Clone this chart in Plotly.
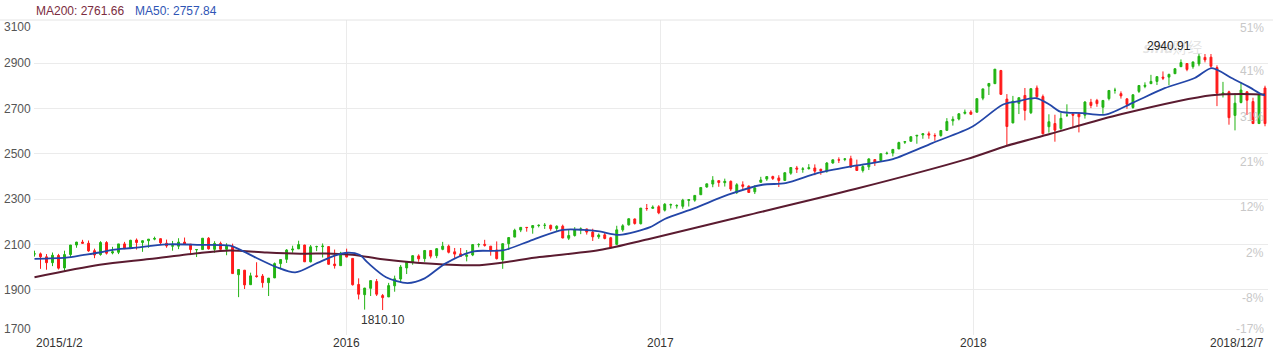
import pandas as pd
import plotly.graph_objects as go

# ---------------- data (weekly OHLC, S&P 500) ----------------
week_end = [d.strftime("%Y-%m-%d") for d in pd.date_range("2015-01-02", "2018-12-07", freq="W-FRI")]

open_vals = [
    2058, 2058, 2045, 2019, 2051, 1996, 2055, 2097, 2110, 2105, 2072, 2055, 2108, 2062, 2065, 2102, 2082, 2119,
    2108, 2116, 2123, 2125, 2105, 2092, 2092, 2110, 2101, 2076, 2077, 2127, 2078, 2104, 2078, 2092, 1966, 1986,
    1922, 1961, 1960, 1931, 1952, 2015, 2034, 2075, 2080, 2097, 2023, 2090, 2090, 2090, 2013, 2006, 2061,
    2038, 1923, 1878, 1906, 1936, 1874, 1868, 1917, 1947, 1996, 2022, 2049, 2037, 2073, 2050, 2078, 2092, 2067,
    2058, 2047, 2053, 2099, 2100, 2092, 2075, 2031, 2103, 2132, 2163, 2175, 2173, 2183, 2184, 2184, 2170, 2180,
    2127, 2139, 2164, 2168, 2154, 2133, 2142, 2129, 2100, 2164, 2186, 2212, 2191, 2258, 2259, 2266,
    2251, 2274, 2270, 2268, 2294, 2295, 2319, 2353, 2366, 2381, 2372, 2378, 2329, 2363, 2357, 2332, 2374, 2388,
    2399, 2393, 2382, 2414, 2437, 2431, 2434, 2437, 2431, 2424, 2459, 2473, 2475, 2478, 2445, 2426, 2442, 2474,
    2470, 2501, 2503, 2521, 2551, 2555, 2578, 2583, 2588, 2580, 2580, 2603, 2645, 2653, 2678, 2684,
    2683, 2745, 2798, 2809, 2867, 2741, 2636, 2722, 2757, 2681, 2790, 2752, 2619, 2633, 2611, 2670, 2675, 2675,
    2670, 2727, 2735, 2705, 2743, 2780, 2765, 2742, 2704, 2775, 2797, 2809, 2819, 2838, 2838, 2853, 2884, 2898,
    2884, 2896, 2925, 2926, 2880, 2763, 2773, 2669, 2726, 2773, 2730, 2633, 2790,
]
high_vals = [
    2072, 2064, 2057, 2064, 2058, 2072, 2097, 2111, 2120, 2117, 2081, 2114, 2114, 2089, 2102, 2111, 2120, 2126,
    2117, 2123, 2134, 2126, 2121, 2115, 2127, 2130, 2101, 2078, 2127, 2132, 2114, 2112, 2105, 2103, 1989, 1987,
    1975, 2021, 1969, 1951, 2020, 2034, 2079, 2094, 2116, 2098, 2097, 2094, 2104, 2090, 2077, 2067, 2081,
    2038, 1950, 1908, 1940, 1947, 1881, 1930, 1962, 2009, 2022, 2052, 2056, 2075, 2073, 2083, 2111, 2099, 2084,
    2084, 2075, 2099, 2105, 2120, 2092, 2113, 2104, 2131, 2169, 2176, 2176, 2183, 2188, 2194, 2187, 2184, 2187,
    2163, 2176, 2175, 2169, 2169, 2148, 2154, 2133, 2182, 2189, 2214, 2214, 2259, 2278, 2272, 2273,
    2282, 2280, 2277, 2301, 2300, 2317, 2351, 2368, 2401, 2382, 2390, 2382, 2370, 2378, 2360, 2361, 2398, 2400,
    2403, 2405, 2418, 2440, 2446, 2441, 2454, 2453, 2434, 2463, 2474, 2484, 2480, 2491, 2474, 2454, 2480, 2474,
    2500, 2509, 2520, 2553, 2556, 2576, 2582, 2588, 2598, 2590, 2604, 2657, 2665, 2679, 2695, 2692,
    2743, 2787, 2808, 2873, 2870, 2763, 2755, 2748, 2790, 2787, 2801, 2761, 2674, 2672, 2681, 2718, 2683, 2682,
    2732, 2742, 2742, 2736, 2780, 2791, 2775, 2744, 2762, 2802, 2815, 2848, 2841, 2863, 2853, 2876, 2916, 2900,
    2906, 2940.91, 2940, 2940, 2890, 2817, 2778, 2767, 2815, 2775, 2747, 2765, 2800,
]
low_vals = [
    2046, 1992, 1988, 2004, 1989, 1981, 2041, 2085, 2103, 2067, 2039, 2050, 2055, 2056, 2057, 2079, 2079, 2077,
    2067, 2085, 2118, 2099, 2085, 2072, 2079, 2101, 2056, 2044, 2077, 2077, 2063, 2067, 2052, 1971, 1867, 1903,
    1921, 1953, 1909, 1872, 1951, 1990, 2018, 2063, 2080, 2022, 2020, 2070, 2042, 2010, 1993, 2005, 2043,
    1918, 1857, 1812, 1872, 1872, 1810.10, 1868, 1891, 1931, 1969, 2010, 2023, 2023, 2038, 2039, 2074, 2060, 2040,
    2047, 2025, 2048, 2087, 2090, 2050, 2033, 1992, 2075, 2132, 2154, 2156, 2147, 2175, 2168, 2160, 2157, 2127,
    2119, 2134, 2145, 2143, 2115, 2124, 2122, 2084, 2097, 2156, 2183, 2187, 2188, 2248, 2258, 2233,
    2245, 2258, 2258, 2257, 2267, 2288, 2319, 2350, 2352, 2354, 2355, 2335, 2322, 2344, 2328, 2322, 2372, 2380,
    2384, 2353, 2382, 2407, 2415, 2416, 2430, 2405, 2407, 2416, 2456, 2459, 2467, 2437, 2424, 2417, 2428, 2446,
    2469, 2496, 2488, 2521, 2543, 2553, 2544, 2566, 2566, 2557, 2575, 2600, 2624, 2647, 2673, 2673,
    2683, 2736, 2759, 2808, 2759, 2532, 2634, 2675, 2647, 2675, 2741, 2585, 2593, 2553, 2605, 2662, 2613, 2594,
    2655, 2701, 2707, 2676, 2735, 2765, 2743, 2698, 2698, 2768, 2789, 2808, 2803, 2825, 2802, 2852, 2883, 2864,
    2875, 2886, 2903, 2874, 2710, 2748, 2628, 2603, 2722, 2671, 2631, 2631, 2621,
]
close_vals = [
    2058, 2045, 2019, 2052, 1995, 2055, 2097, 2110, 2105, 2071, 2053, 2108, 2061, 2067, 2102, 2081, 2118, 2108,
    2116, 2123, 2126, 2107, 2093, 2094, 2110, 2101, 2077, 2077, 2127, 2080, 2104, 2078, 2092, 1971, 1989, 1921,
    1961, 1958, 1931, 1951, 2015, 2033, 2075, 2079, 2099, 2023, 2089, 2090, 2092, 2012, 2006, 2061, 2044,
    1922, 1880, 1907, 1940, 1880, 1865, 1918, 1948, 2000, 2022, 2050, 2036, 2073, 2048, 2081, 2092, 2065, 2057,
    2047, 2052, 2099, 2099, 2096, 2071, 2037, 2103, 2130, 2162, 2175, 2174, 2183, 2184, 2184, 2169, 2180, 2128,
    2139, 2165, 2168, 2154, 2133, 2141, 2126, 2085, 2164, 2182, 2213, 2192, 2260, 2258, 2264, 2239,
    2277, 2275, 2271, 2295, 2297, 2316, 2351, 2367, 2383, 2373, 2378, 2344, 2363, 2356, 2329, 2349, 2384, 2399,
    2391, 2382, 2416, 2439, 2432, 2433, 2438, 2423, 2425, 2459, 2473, 2472, 2477, 2441, 2426, 2443, 2477, 2461,
    2500, 2502, 2519, 2549, 2553, 2575, 2581, 2588, 2582, 2579, 2602, 2642, 2652, 2676, 2683, 2674,
    2743, 2786, 2810, 2873, 2762, 2620, 2732, 2747, 2691, 2787, 2752, 2588, 2641, 2604, 2656, 2670, 2670, 2663,
    2728, 2713, 2721, 2735, 2779, 2780, 2755, 2718, 2760, 2801, 2802, 2819, 2840, 2833, 2850, 2875, 2902, 2872,
    2905, 2930, 2914, 2886, 2767, 2768, 2659, 2723, 2781, 2736, 2633, 2760, 2633,
]

# moving averages
ma200_dates = ["2015-01-02", "2015-03-19", "2015-05-16", "2015-07-14", "2015-08-18", "2015-09-30", "2015-11-08",
               "2015-12-16", "2016-01-08", "2016-02-12", "2016-03-26", "2016-06-04", "2016-08-13", "2016-10-22",
               "2016-12-20", "2017-03-25", "2017-08-16", "2017-12-24", "2018-02-09", "2018-03-31", "2018-06-23",
               "2018-10-06", "2018-12-07"]
ma200_vals = [1955, 2010, 2035, 2062, 2073, 2064, 2059, 2059, 2054, 2034, 2018, 2008, 2044, 2075, 2125, 2212,
              2344, 2476, 2535, 2587, 2675, 2758, 2761.66]

ma50_dates = ["2015-01-02", "2015-02-08", "2015-02-27", "2015-03-19", "2015-04-03", "2015-04-26", "2015-06-05",
              "2015-07-14", "2015-08-18", "2015-08-29", "2015-09-18", "2015-10-11", "2015-11-02", "2015-11-28",
              "2015-12-18", "2016-01-02", "2016-01-16", "2016-01-26", "2016-02-16", "2016-03-12", "2016-04-01",
              "2016-04-25", "2016-05-28", "2016-07-01", "2016-08-05", "2016-09-09", "2016-10-03", "2016-10-22",
              "2016-11-14", "2016-12-20", "2017-01-06", "2017-02-10", "2017-03-21", "2017-04-30", "2017-05-27",
              "2017-07-04", "2017-08-16", "2017-09-29", "2017-11-14", "2017-12-31", "2018-02-04", "2018-02-20",
              "2018-03-15", "2018-03-31", "2018-04-12", "2018-05-08", "2018-06-04", "2018-07-05", "2018-08-12",
              "2018-09-16", "2018-10-06", "2018-10-29", "2018-11-17", "2018-12-04", "2018-12-07"]
ma50_vals = [2036, 2041, 2052, 2064, 2076, 2084, 2100, 2098, 2094, 2078, 2040, 2000, 1976, 2018, 2050, 2063, 2054,
             2018, 1955, 1929, 1950, 2015, 2069, 2073, 2120, 2164, 2164, 2157, 2142, 2176, 2212, 2260, 2319, 2363,
             2370, 2415, 2447, 2476, 2547, 2620, 2716, 2730, 2745, 2716, 2686, 2679, 2672, 2723, 2789, 2834, 2878,
             2834, 2797, 2760, 2757.84]

y_ticks = [1700, 1900, 2100, 2300, 2500, 2700, 2900, 3100]
pct_labels = ["-17%", "-8%", "2%", "12%", "21%", "31%", "41%", "51%"]
year_ticks = ["2016-01-01", "2017-01-01", "2018-01-01"]
year_labels = ["2016", "2017", "2018"]

# ---------------- layout geometry ----------------
W, H = 1273, 353
ML, MR, MT, MB = 34, 5, 20, 18
PW, PH = W - ML - MR, H - MT - MB
FONT = "Liberation Sans, Arial, sans-serif"
UP, DOWN = "#22b414", "#ff1a1a"
C200, C50 = "#5b1b30", "#2346a8"


def px(x):
    return (x - ML) / PW


def py(y):
    return (H - MB - y) / PH


fig = go.Figure()
fig.add_trace(go.Candlestick(
    x=week_end, open=open_vals, high=high_vals, low=low_vals, close=close_vals,
    increasing=dict(line=dict(color=UP, width=1), fillcolor=UP),
    decreasing=dict(line=dict(color=DOWN, width=1), fillcolor=DOWN),
    whiskerwidth=0, showlegend=False, hoverinfo="skip"))
fig.add_trace(go.Scatter(x=ma200_dates, y=ma200_vals, mode="lines", showlegend=False, hoverinfo="skip",
                         line=dict(color=C200, width=2, shape="spline", smoothing=0.8)))
fig.add_trace(go.Scatter(x=ma50_dates, y=ma50_vals, mode="lines", showlegend=False, hoverinfo="skip",
                         line=dict(color=C50, width=1.8, shape="spline", smoothing=0.8)))

ann = []
# legend text
ann.append(dict(xref="paper", yref="paper", x=px(34), y=py(11), xanchor="left", yanchor="middle",
                text=f"MA200: {ma200_vals[-1]:.2f}", showarrow=False, font=dict(family=FONT, size=12, color="#7b2c40")))
ann.append(dict(xref="paper", yref="paper", x=px(133), y=py(11), xanchor="left", yanchor="middle",
                text=f"MA50: {ma50_vals[-1]:.2f}", showarrow=False, font=dict(family=FONT, size=12, color="#2f55b5")))

# left price labels & right percentage labels
left_y = {1700: 329, 3100: 27}
right_off = {1700: -6, 3100: 10}
y0 = 335.3
for v, p in zip(y_ticks, pct_labels):
    ypx = y0 - (v - 1700) * PH / (3090 - 1700)
    ann.append(dict(xref="paper", yref="paper", x=px(33), y=py(left_y.get(v, ypx)), xanchor="right",
                    yanchor="middle", text=str(v), showarrow=False, font=dict(family=FONT, size=12, color="#555555")))
    ann.append(dict(xref="paper", yref="paper", x=px(1266), y=py(ypx + right_off.get(v, 8)), xanchor="right",
                    yanchor="middle", text=p, showarrow=False, font=dict(family=FONT, size=12, color="#c8c8c8")))

# x labels
ann.append(dict(xref="paper", yref="paper", x=px(34), y=py(343), xanchor="left", yanchor="middle",
                text="2015/1/2", showarrow=False, font=dict(family=FONT, size=12, color="#333333")))
ann.append(dict(xref="paper", yref="paper", x=px(1266), y=py(343), xanchor="right", yanchor="middle",
                text="2018/12/7", showarrow=False, font=dict(family=FONT, size=12, color="#333333")))
for d, t in zip(year_ticks, year_labels):
    ann.append(dict(xref="x", yref="paper", x=d, y=py(343), xanchor="center", yanchor="middle",
                    text=t, showarrow=False, font=dict(family=FONT, size=12, color="#333333")))

# faint watermark behind the high label (as in the reference)
ann.append(dict(xref="paper", yref="paper", x=px(1172), y=py(46), xanchor="center", yanchor="middle",
                text="<b><i>sina</i></b>财经", showarrow=False,
                font=dict(family="Noto Sans CJK SC, " + FONT, size=15, color="rgba(160,160,160,0.30)")))

# extreme labels
i_lo = low_vals.index(min(low_vals))
i_hi = high_vals.index(max(high_vals))
ann.append(dict(x=week_end[i_lo], y=low_vals[i_lo], xanchor="center", yanchor="top", yshift=-1,
                text=f"{low_vals[i_lo]:.2f}", showarrow=False, font=dict(family=FONT, size=12, color="#333333")))
ann.append(dict(x=week_end[i_hi], y=high_vals[i_hi], xanchor="right", yanchor="bottom", xshift=-6, yshift=-1,
                text=f"{high_vals[i_hi]:.2f}", showarrow=False, font=dict(family=FONT, size=12, color="#222222")))

fig.update_layout(
    width=W, height=H, margin=dict(l=ML, r=MR, t=MT, b=MB),
    paper_bgcolor="white", plot_bgcolor="white",
    boxgap=0.55,
    annotations=ann,
    shapes=[dict(type="line", xref="paper", yref="paper", x0=px(0), x1=px(W), y0=1, y1=1,
                 line=dict(color="#e4e4e4", width=1))],
    xaxis=dict(type="date", range=["2015-01-01 10:00", "2018-12-10 12:00"], rangeslider=dict(visible=False),
               tickvals=year_ticks, showticklabels=False, showgrid=True, gridcolor="#ebebeb", gridwidth=1,
               zeroline=False, showline=False, fixedrange=True),
    yaxis=dict(range=[1700, 3090], tickvals=y_ticks[:-1], showticklabels=False, showgrid=True,
               gridcolor="#ebebeb", gridwidth=1, zeroline=False, showline=False, fixedrange=True),
    showlegend=False,
)

assert len(week_end) == len(open_vals) == len(high_vals) == len(low_vals) == len(close_vals)
fig.write_html("out.html")
